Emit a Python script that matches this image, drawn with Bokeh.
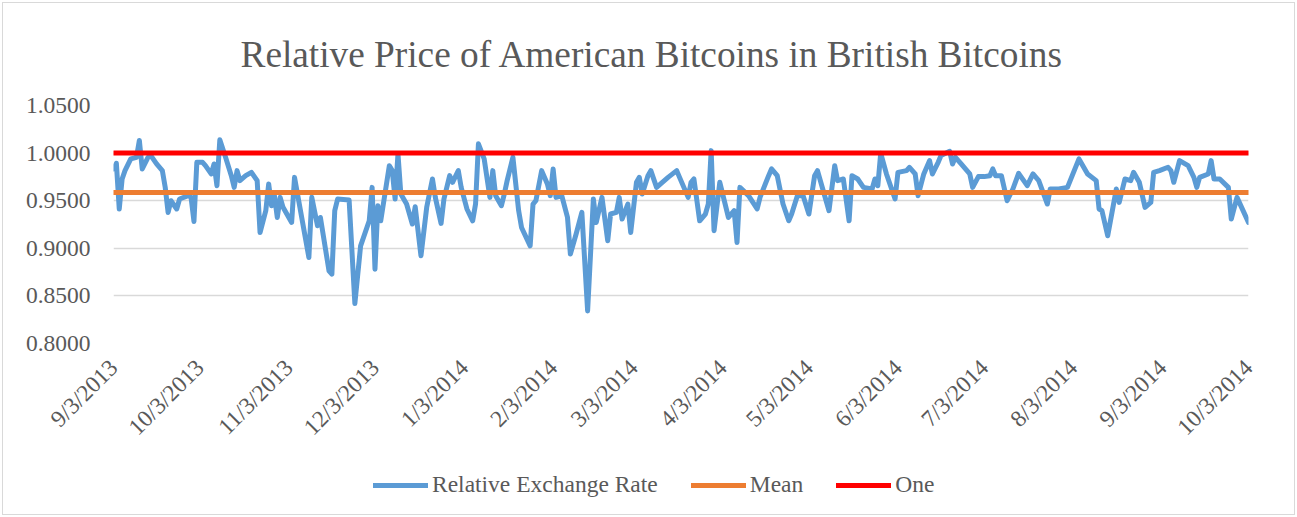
import math
from datetime import date
from bokeh.plotting import figure
from bokeh.layouts import column
from bokeh.models import Range1d, FixedTicker, Legend, LegendItem, NumeralTickFormatter
from bokeh.embed import file_html
from bokeh.resources import INLINE

# ---------------- data ----------------
START = date(2013, 9, 3)

tick_labels = ["9/3/2013", "10/3/2013", "11/3/2013", "12/3/2013", "1/3/2014",
               "2/3/2014", "3/3/2014", "4/3/2014", "5/3/2014", "6/3/2014",
               "7/3/2014", "8/3/2014", "9/3/2014", "10/3/2014"]

y_ticks = [0.80, 0.85, 0.90, 0.95, 1.00, 1.05]

# day offsets from 9/3/2013
days = [0, 1, 2, 3, 4, 6, 8, 9, 10, 12, 13, 15, 17, 18, 19, 20, 22, 23, 26, 27,
        28, 29, 31, 32, 34, 35, 36, 37, 39, 41, 42, 43, 44, 46, 48, 50, 51, 53, 54, 55,
        56, 57, 58, 59, 62, 63, 68, 69, 71, 72, 75, 76, 77, 78, 82, 84, 86, 89, 90, 91,
        92, 93, 96, 97, 98, 99, 100, 102, 104, 105, 107, 109, 111, 112, 114, 115, 117, 118, 120, 121,
        123, 125, 126, 127, 129, 131, 132, 133, 135, 136, 137, 139, 141, 142, 145, 146, 147, 149, 151, 152,
        153, 154, 156, 158, 159, 161, 163, 165, 167, 168, 170, 172, 173, 175, 176, 177, 179, 180, 182, 183,
        184, 186, 187, 189, 191, 193, 196, 197, 200, 201, 202, 204, 206, 207, 208, 209, 211, 214, 216, 217,
        218, 221, 224, 225, 228, 229, 231, 233, 235, 236, 238, 240, 242, 244, 245, 247, 249, 251, 252, 254,
        256, 257, 259, 261, 264, 265, 266, 267, 269, 272, 273, 276, 277, 279, 280, 282, 284, 285, 287, 288,
        291, 292, 293, 295, 298, 299, 301, 303, 305, 306, 307, 309, 311, 313, 315, 318, 320, 322, 325, 326,
        329, 332, 336, 339, 342, 343, 344, 346, 349, 350, 352, 354, 355, 357, 359, 361, 362, 364, 367, 368,
        369, 371, 374, 376, 377, 378, 381, 382, 383, 385, 388, 389, 391, 395]

rate = [0.9834, 0.9893, 0.9413, 0.9728, 0.9816, 0.9939, 0.9956, 1.0132, 0.9834, 0.9956,
        0.9974, 0.9886, 0.9816, 0.9640, 0.9377, 0.9500, 0.9413, 0.9518, 0.9553, 0.9535,
        0.9282, 0.9903, 0.9903, 0.9868, 0.9781, 0.9886, 0.9658, 1.0139, 0.9956, 0.9763,
        0.9640, 0.9816, 0.9711, 0.9763, 0.9798, 0.9711, 0.9166, 0.9395, 0.9676, 0.9447,
        0.9553, 0.9324, 0.9535, 0.9430, 0.9272, 0.9745, 0.8903, 0.9535, 0.9237, 0.9324,
        0.8763, 0.8728, 0.9395, 0.9518, 0.9507, 0.8419, 0.9026, 0.9289, 0.9640, 0.8780,
        0.9447, 0.9289, 0.9868, 0.9816, 0.9518, 0.9991, 0.9570, 0.9465, 0.9255, 0.9437,
        0.8921, 0.9430, 0.9728, 0.9535, 0.9262, 0.9518, 0.9763, 0.9693, 0.9816, 0.9640,
        0.9413, 0.9289, 0.9465, 1.0097, 0.9939, 0.9535, 0.9816, 0.9553, 0.9447, 0.9570,
        0.9711, 0.9956, 0.9395, 0.9219, 0.9026, 0.9465, 0.9500, 0.9816, 0.9676, 0.9553,
        0.9834, 0.9535, 0.9553, 0.9324, 0.8939, 0.9150, 0.9377, 0.8342, 0.9518, 0.9272,
        0.9535, 0.9079, 0.9360, 0.9377, 0.9535, 0.9307, 0.9465, 0.9166, 0.9693, 0.9745,
        0.9570, 0.9763, 0.9816, 0.9640, 0.9693, 0.9745, 0.9816, 0.9745, 0.9535, 0.9693,
        0.9728, 0.9289, 0.9360, 0.9465, 1.0026, 0.9184, 0.9693, 0.9324, 0.9395, 0.9061,
        0.9640, 0.9553, 0.9413, 0.9535, 0.9763, 0.9834, 0.9763, 0.9465, 0.9289, 0.9360,
        0.9553, 0.9553, 0.9360, 0.9763, 0.9816, 0.9605, 0.9395, 0.9868, 0.9711, 0.9728,
        0.9289, 0.9763, 0.9728, 0.9640, 0.9623, 0.9728, 0.9658, 0.9998, 0.9781, 0.9518,
        0.9798, 0.9816, 0.9851, 0.9781, 0.9553, 0.9781, 0.9921, 0.9781, 0.9903, 0.9974,
        1.0019, 0.9886, 0.9956, 0.9886, 0.9781, 0.9640, 0.9753, 0.9753, 0.9763, 0.9834,
        0.9763, 0.9763, 0.9500, 0.9623, 0.9787, 0.9658, 0.9781, 0.9711, 0.9465, 0.9623,
        0.9623, 0.9640, 0.9939, 0.9781, 0.9711, 0.9413, 0.9395, 0.9132, 0.9623, 0.9482,
        0.9728, 0.9711, 0.9798, 0.9693, 0.9430, 0.9482, 0.9798, 0.9816, 0.9851, 0.9816,
        0.9693, 0.9921, 0.9868, 0.9745, 0.9640, 0.9745, 0.9781, 0.9921, 0.9728, 0.9728,
        0.9640, 0.9307, 0.9535, 0.9272]

MEAN_RATE = 0.9587
ONE = 1.0

series_names = ["Relative Exchange Rate", "Mean", "One"]
series_colors = ["#5b9bd5", "#ed7d31", "#ff0000"]

# ---------------- derived ----------------
def to_day(s):
    m, d, y = (int(v) for v in s.split("/"))
    return (date(y, m, d) - START).days

tick_days = [to_day(s) for s in tick_labels]
span = [days[0], days[-1]]
series_y = [rate, [MEAN_RATE, MEAN_RATE], [ONE, ONE]]
series_x = [days, span, span]

TXT = "#595959"
FONT = "Liberation Serif"
W = 1297
MAIN_H = 460
LEG_H = 57
LW = 5

p = figure(width=W, height=MAIN_H, output_backend="svg", toolbar_location=None,
           x_range=Range1d(tick_days[0], tick_days[-1]), y_range=Range1d(0.8, 1.05),
           min_border_left=113, min_border_right=49, min_border_top=105,
           min_border_bottom=MAIN_H - 343)

p.outline_line_color = None
p.background_fill_color = "white"
p.border_fill_alpha = 0

p.title.text = "Relative Price of American Bitcoins in British Bitcoins"
p.title.align = "left"
p.title.offset = 127
p.title.text_font = FONT
p.title.text_font_size = "37.3px"
p.title.text_font_style = "normal"
p.title.text_color = TXT
p.title.standoff = 62

p.xgrid.grid_line_color = None
p.ygrid.grid_line_color = "#d9d9d9"
p.ygrid.grid_line_width = 1.3

p.yaxis.ticker = FixedTicker(ticks=y_ticks)
p.yaxis.formatter = NumeralTickFormatter(format="0.0000")
p.xaxis.ticker = FixedTicker(ticks=tick_days)
p.xaxis.major_label_overrides = {d: s for d, s in zip(tick_days, tick_labels)}
p.xaxis.major_label_orientation = math.pi / 4

for ax in (p.xaxis, p.yaxis):
    ax.axis_line_color = None
    ax.major_tick_line_color = None
    ax.minor_tick_line_color = None
    ax.major_tick_out = 0
    ax.major_tick_in = 0
    ax.major_label_text_font = FONT
    ax.major_label_text_font_size = "23.5px"
    ax.major_label_text_color = TXT
p.yaxis.major_label_standoff = 23
p.xaxis.major_label_standoff = 20

for xs, ys, col in zip(series_x, series_y, series_colors):
    p.line(xs, ys, line_color=col, line_width=LW, line_join="round", line_cap="round")

# legend strip below the chart (its frame is aligned with the chart's frame)
q = figure(width=W, height=LEG_H, output_backend="svg", toolbar_location=None,
           x_range=Range1d(0, 1), y_range=Range1d(5, 6),
           min_border_left=0, min_border_right=0, min_border_top=0, min_border_bottom=0)
q.axis.visible = False
q.grid.visible = False
q.outline_line_color = None
q.border_fill_alpha = 0
q.background_fill_alpha = 0
q.title.visible = False

items = []
for name, xs, ys, col in zip(series_names, series_x, series_y, series_colors):
    r = q.line(xs, ys, line_color=col, line_width=LW, line_cap="round")
    items.append(LegendItem(label=name, renderers=[r]))

legend = Legend(items=items, orientation="horizontal", location=(260, 19),
                glyph_width=55, glyph_height=20, label_standoff=4, spacing=33,
                padding=0, margin=0, border_line_color=None, background_fill_alpha=0,
                label_text_font=FONT, label_text_font_size="23.5px", label_text_color=TXT)
q.add_layout(legend)

layout = column(p, q, spacing=0)
layout.styles = {"outline": "1px solid #d9d9d9", "outline-offset": "-3px"}
open("out.html", "w").write(file_html(layout, INLINE))
